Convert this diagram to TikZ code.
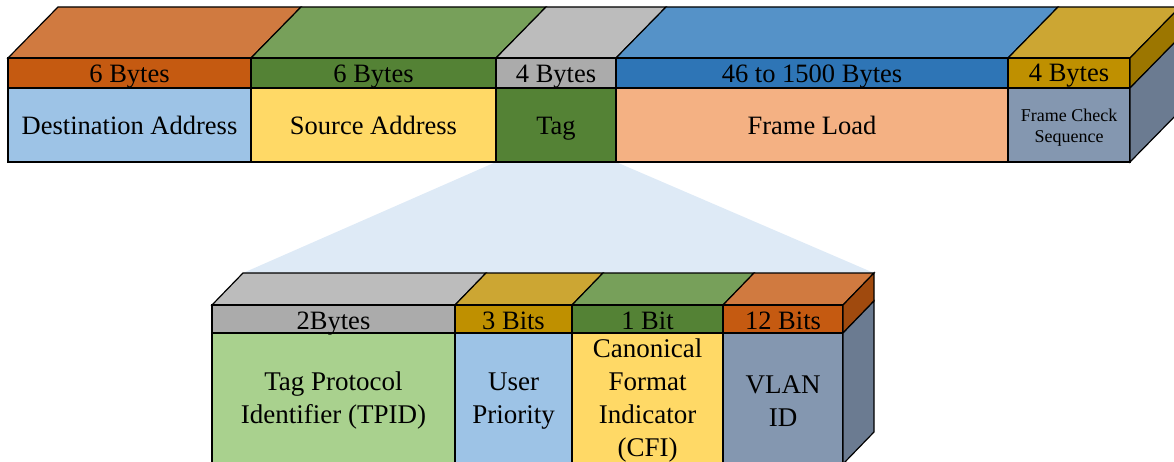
\documentclass[tikz,border=0pt]{standalone}
\usepackage{fontspec}
\setmainfont{Liberation Serif}
\definecolor{zoomfill}{HTML}{DEEAF6}
\definecolor{orStrip}{HTML}{C55A11}\definecolor{orTop}{HTML}{D07A40}\definecolor{orSide}{HTML}{A04A0E}
\definecolor{grStrip}{HTML}{548235}\definecolor{grTop}{HTML}{77A05A}
\definecolor{gyStrip}{HTML}{ABABAB}\definecolor{gyTop}{HTML}{BCBCBC}
\definecolor{blStrip}{HTML}{2E75B6}\definecolor{blTop}{HTML}{5592C8}
\definecolor{goStrip}{HTML}{BF9000}\definecolor{goTop}{HTML}{CCA633}\definecolor{goSide}{HTML}{9C7600}
\definecolor{ltBlue}{HTML}{9DC3E6}\definecolor{ltYellow}{HTML}{FFD966}
\definecolor{ltPeach}{HTML}{F4B183}\definecolor{ltGreen}{HTML}{A9D18E}
\definecolor{slate}{HTML}{8497B0}\definecolor{slateSide}{HTML}{6B7B91}
\begin{document}
\begin{tikzpicture}[x=1pt,y=-1pt,line width=1.2pt,line join=miter,
  face/.style={draw=black},
  striplabel/.style={font=\fontsize{26.5}{30}\selectfont,anchor=base,inner sep=0pt},
  bodylabel/.style={font=\fontsize{26.5}{33}\selectfont,align=center,inner sep=0pt},
  lowlabel/.style={font=\fontsize{27}{33}\selectfont,align=center,inner sep=0pt},
  smalllabel/.style={font=\fontsize{18}{21}\selectfont,align=center,inner sep=0pt}]
\useasboundingbox (0,0) rectangle (1174,462);
\clip (0,0) rectangle (1174,462);

% zoom wedge from the tag field to the detailed tag block
\fill[zoomfill] (496,162) -- (616,162) -- (874,273) -- (243,273) -- cycle;

% ---- Ethernet frame (upper block) ----
\foreach \a/\b/\ct/\cs/\cb in {8/251/orTop/orStrip/ltBlue,
    251/496/grTop/grStrip/ltYellow, 496/616/gyTop/gyStrip/grStrip,
    616/1008/blTop/blStrip/ltPeach, 1008/1130/goTop/goStrip/slate}{
  \draw[face,fill=\ct] (\a,58) -- (\a+50,7) -- (\b+50,7) -- (\b,58) -- cycle;
  \draw[face,fill=\cs] (\a,58) rectangle (\b,88);
  \draw[face,fill=\cb] (\a,88) rectangle (\b,162);
}
\draw[face,fill=goSide] (1130,58) -- (1180,7) -- (1180,37) -- (1130,88) -- cycle;
\draw[face,fill=slateSide] (1130,88) -- (1180,37) -- (1180,111) -- (1130,162) -- cycle;

\node[striplabel] (s1) at (129.5,83) {6 Bytes};
\node[striplabel] (s2) at (373.5,83) {6 Bytes};
\node[striplabel] (s3) at (556,83) {4 Bytes};
\node[striplabel] (s4) at (812,83) {46 to 1500 Bytes};
\node[striplabel] (s5) at (1069,82) {4 Bytes};
\node[bodylabel,anchor=base] (b1) at (129.5,135) {Destination Address};
\node[bodylabel,anchor=base] (b2) at (373.5,135) {Source Address};
\node[bodylabel,anchor=base] (b3) at (556,135) {Tag};
\node[bodylabel,anchor=base] (b4) at (812,135) {Frame Load};
\node[smalllabel] (b5) at (1069,128) {Frame Check\\Sequence};

% ---- 802.1Q tag (lower block) ----
\foreach \a/\b/\ct/\cs/\cb in {212/455/gyTop/gyStrip/ltGreen,
    455/572/goTop/goStrip/ltBlue, 572/723/grTop/grStrip/ltYellow,
    723/843/orTop/orStrip/slate}{
  \draw[face,fill=\ct] (\a,305) -- (\a+31,273) -- (\b+31,273) -- (\b,305) -- cycle;
  \draw[face,fill=\cs] (\a,305) rectangle (\b,333);
  \draw[face,fill=\cb] (\a,333) rectangle (\b,464);
}
\draw[face,fill=orSide] (843,305) -- (874,273) -- (874,301) -- (843,333) -- cycle;
\draw[face,fill=slateSide] (843,333) -- (874,301) -- (874,432) -- (843,464) -- cycle;

\node[striplabel] (t1) at (333.5,329) {2Bytes};
\node[striplabel] (t2) at (513.5,329) {3 Bits};
\node[striplabel] (t3) at (647.5,329) {1 Bit};
\node[striplabel] (t4) at (783,329) {12 Bits};
\node[lowlabel] (u1) at (333.5,401) {Tag Protocol\\Identifier (TPID)};
\node[lowlabel] (u2) at (513.5,401) {User\\Priority};
\node[lowlabel] (u3) at (647.5,401) {Canonical\\Format\\Indicator\\(CFI)};
\node[lowlabel] (u4) at (783,401) {VLAN\\ID};
\end{tikzpicture}
\end{document}
